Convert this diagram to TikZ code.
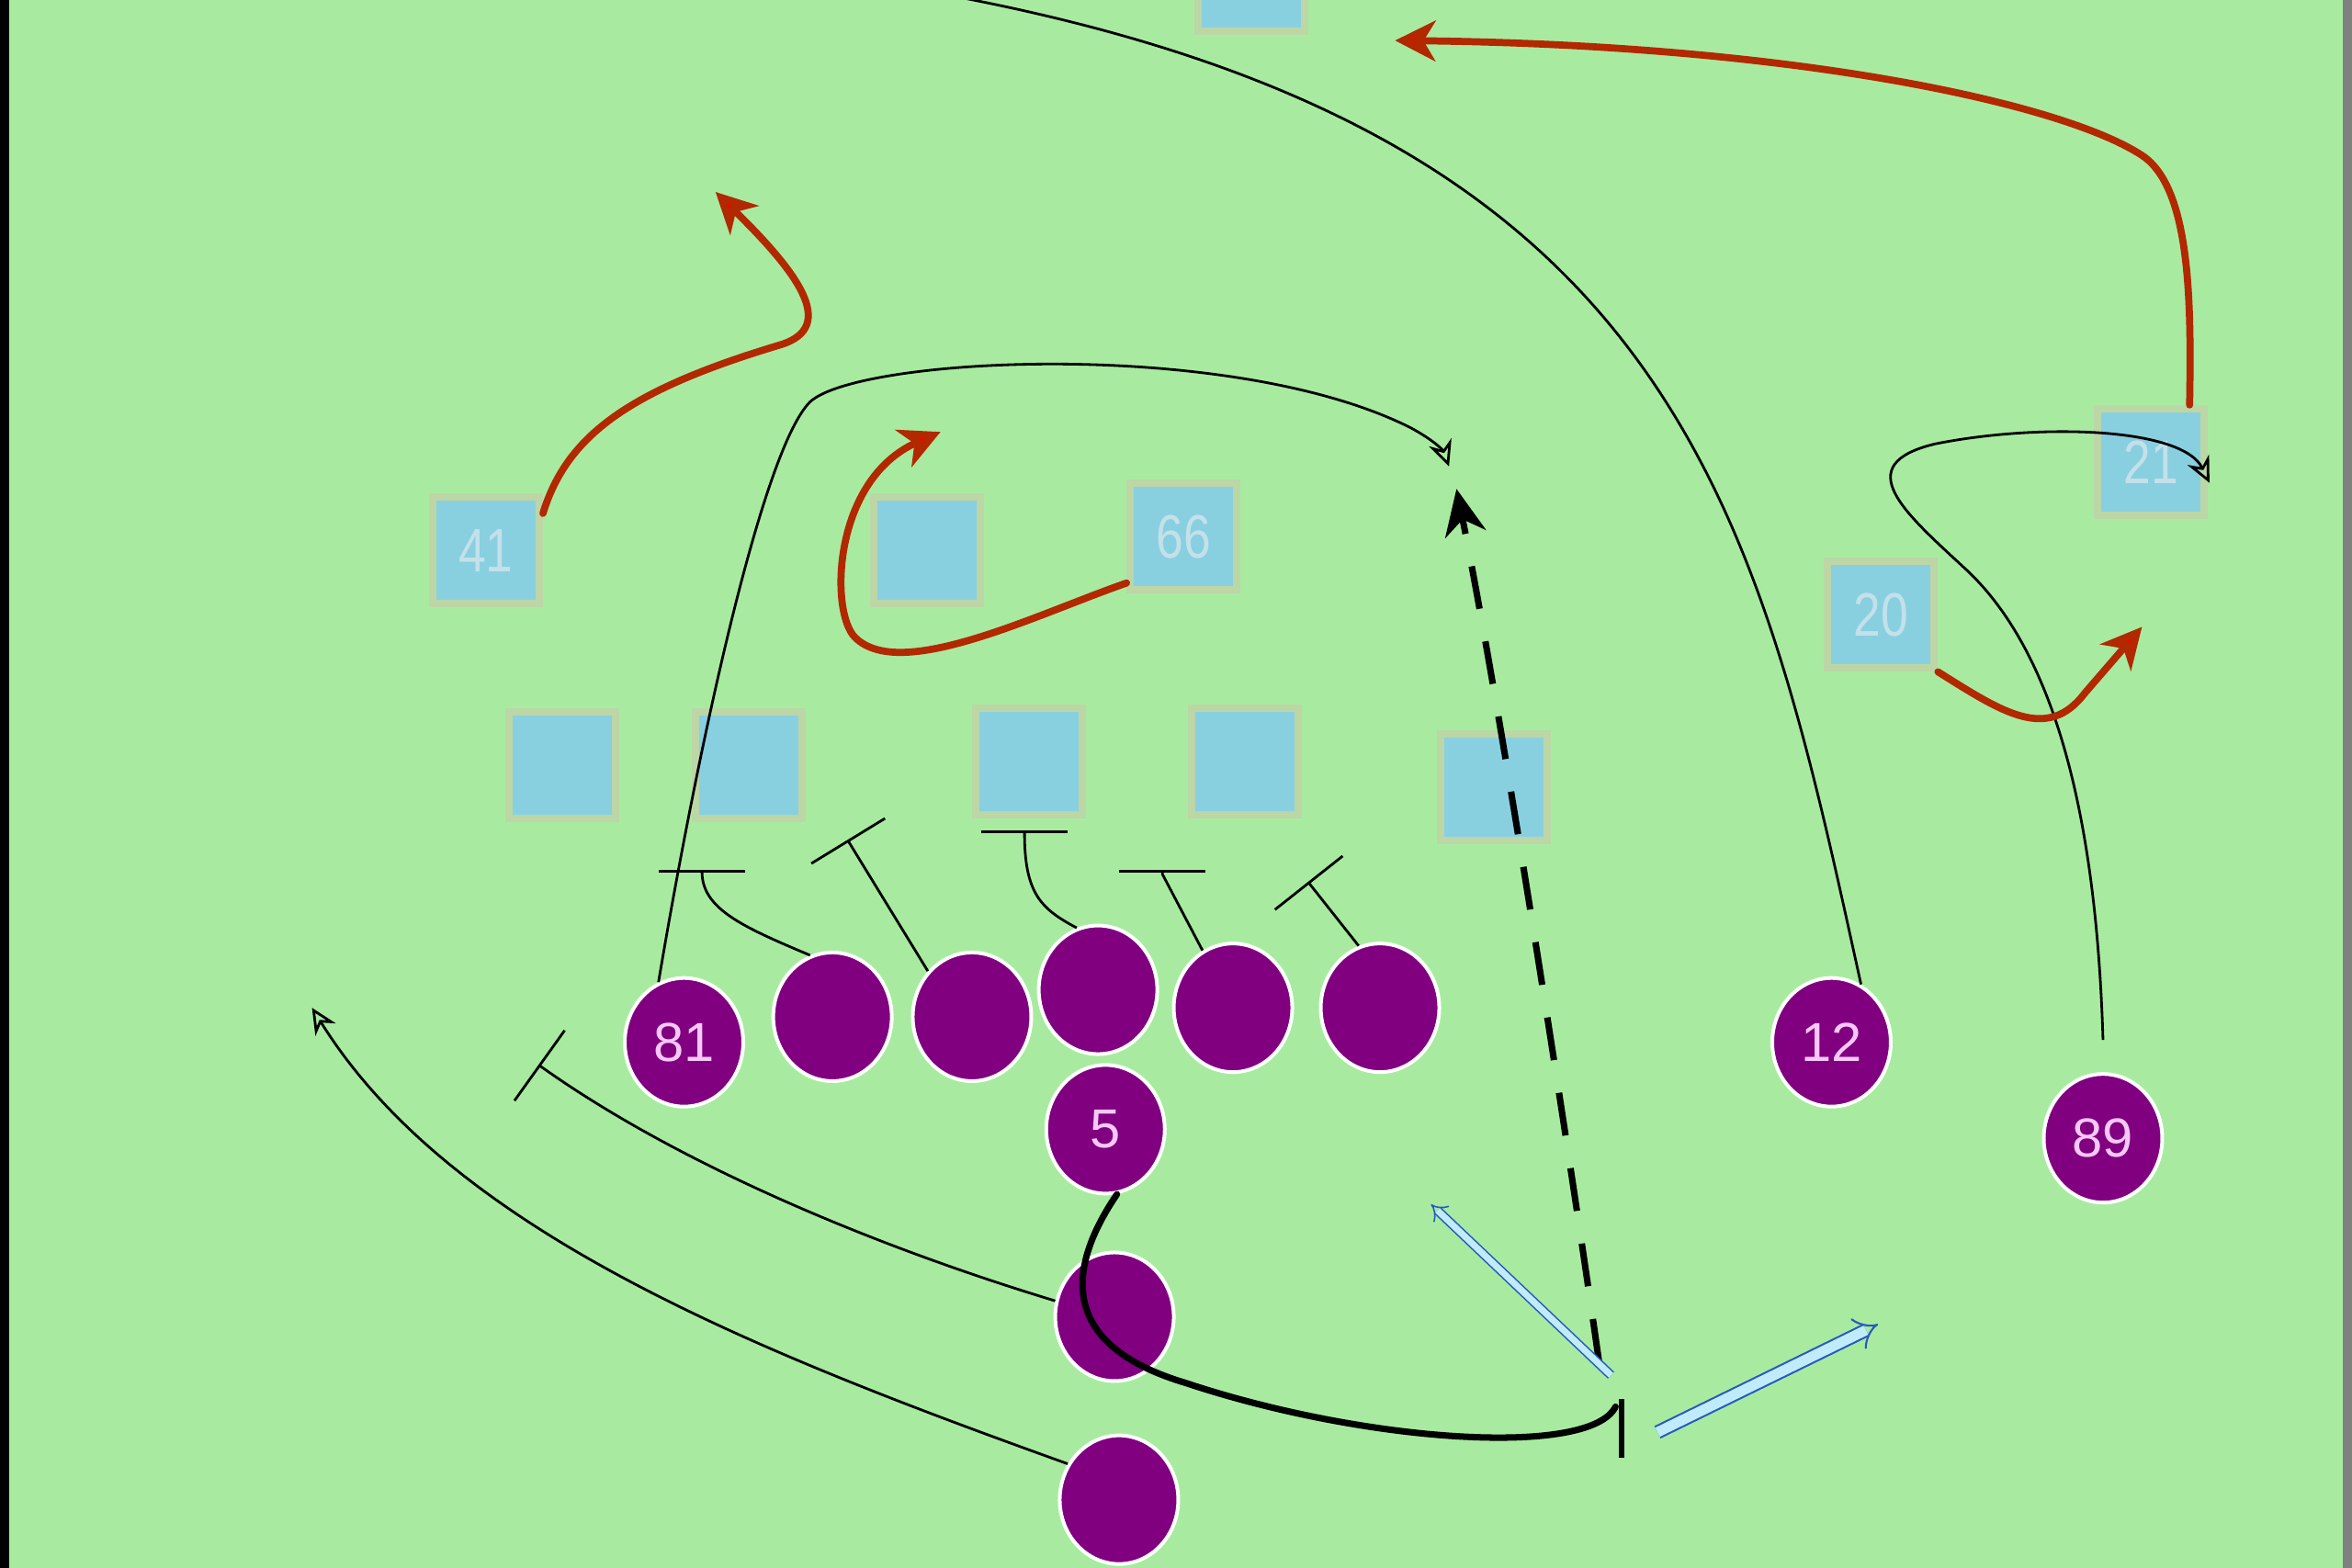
\documentclass[tikz,border=0pt]{standalone}
\usepackage{fontspec}
\usepackage{graphicx}
\newfontfamily\playfont{Liberation Sans}
\usetikzlibrary{arrows.meta, shapes.geometric}

\definecolor{field}{RGB}{168,235,160}
\definecolor{defblue}{RGB}{136,208,224}
\definecolor{defedge}{RGB}{188,214,166}
\definecolor{deftext}{RGB}{196,224,234}
\definecolor{offpurple}{RGB}{128,0,128}
\definecolor{offtext}{RGB}{246,200,246}
\definecolor{rushred}{RGB}{178,40,0}
\definecolor{tipred}{RGB}{228,12,0}
\definecolor{passblue}{RGB}{40,90,190}
\definecolor{passfill}{RGB}{192,236,250}

\tikzset{
	defender/.style = {rectangle, fill = defblue, draw = defedge, line width = 0.8mm, minimum size = 11.6mm, inner sep = 0pt, text = deftext, font = \playfont\fontsize{19}{19}\selectfont},
	player/.style = {ellipse, fill = offpurple, draw = white, line width = 0.4mm, minimum width = 12.9mm, minimum height = 14mm, inner sep = 0pt, text = offtext, font = \playfont\fontsize{17}{17}\selectfont},
	route/.style = {line width = 0.8pt, -{Stealth[open, length = 2.8mm, width = 2.6mm]}},
	block/.style = {line width = 0.8pt, -{Bar[width = 9.4mm]}},
	rush/.style = {rushred, line width = 2.2pt, line cap = round, -{Stealth[length = 4.4mm, width = 4.4mm, inset = 1.3mm, fill = tipred]}},
	handoff/.style = {line width = 2pt, line cap = round},
	throw/.style = {line width = 2pt, dash pattern = on 4.7mm off 3.6mm, -{Stealth[length = 5mm, width = 4.5mm]}},
	pass/.style = {draw = passblue, double = passfill, -{Implies}},
}
\newcommand{\nar}[1]{\scalebox{0.8}[1]{#1}}

\begin{document}
\begin{tikzpicture}[x = 0.16327mm, y = -0.16327mm]
	\useasboundingbox (0, 0) rectangle (1568, 1045.5);
	\fill[field] (0, 0) rectangle (1568, 1045.5);
	\draw[black, line width = 1mm] (3, 0) -- (3, 1045.5);
	\draw[gray, line width = 1mm] (1565, 0) -- (1565, 1045.5);
	% defense
		\node[defender] (top) at (834, -15) {};
		\node[defender] (lb41) at (324, 367) {\nar{41}};
		\node[defender] (lbm) at (618, 367) {};
		\node[defender] (lb66) at (789, 358) {\nar{66}};
		\node[defender] (cb21) at (1434, 308) {\nar{21}};
		\node[defender] (s20) at (1254, 410) {\nar{20}};
		\node[defender] (dl1) at (375, 510) {};
		\node[defender] (dl2) at (499, 510) {};
		\node[defender] (dl3) at (686, 508) {};
		\node[defender] (dl4) at (830, 508) {};
		\node[defender] (dl5) at (996, 525) {};
	% offense
		\node[player] (te81) at (456, 695) {81};
		\node[player] (lt) at (555, 678) {};
		\node[player] (lg) at (648, 678) {};
		\node[player] (c) at (732, 660) {};
		\node[player] (rg) at (822, 672) {};
		\node[player] (rt) at (920, 672) {};
		\node[player] (wr12) at (1221, 695) {12};
		\node[player] (wr89) at (1402, 759) {89};
		\node[player] (qb5) at (737, 753) {5};
		\node[player] (rb1) at (743, 878) {};
		\node[player] (rb2) at (746, 1000) {};
	% route ends
		\coordinate (e12) at (628, -4);
		\coordinate (e81) at (966, 311);
		\coordinate (e89) at (1473, 322);
		\coordinate (erb2) at (208, 672);
		\coordinate (e41) at (477, 128);
		\coordinate (e66) at (627, 288);
		\coordinate (e21) at (930, 27);
		\coordinate (e20) at (1428, 418);
		\coordinate (set) at (1077, 938);
		\coordinate (bartop) at (1081, 933);
		\coordinate (barbot) at (1081, 972);
		\coordinate (release) at (1066, 908);
		\coordinate (e5) at (971, 326);
		\coordinate (look1) at (1074, 917);
		\coordinate (look1e) at (954, 803);
		\coordinate (look2) at (1105, 955);
		\coordinate (look2e) at (1252, 883);
	% receivers
		\draw[line width = 0.8pt] (wr12.63) .. controls (1215, 540) and (1190, 420) .. (1140, 320) .. controls (1060, 160) and (920, 50) .. (e12);
		\draw[route] (te81.113) .. controls (465, 500) and (508, 300) .. (540, 268) .. controls (572, 238) and (820, 225) .. (940, 285) .. controls (955, 293) and (962, 300) .. (e81);
		\draw[route] ([yshift = 3.5mm]wr89.north) .. controls (1398, 560) and (1375, 440) .. (1311, 380) .. controls (1270, 342) and (1232, 310) .. (1290, 296) .. controls (1360, 282) and (1455, 285) .. (e89);
		\draw[route] (rb2.145) .. controls (500, 900) and (300, 820) .. (erb2);
	% blocks
		\draw[block] (lt.110) .. controls (495, 618) and (468, 606) .. (468, 580);
		\draw[block] (lg.134) -- (565, 560);
		\draw[block] (c.109) .. controls (694, 606) and (683, 596) .. (683, 554);
		\draw[block] (rg.118) -- (775, 583) -- (775, 580);
		\draw[block] (rt.109) -- (872, 588);
		\draw[block] (rb1.165) .. controls (580, 830) and (450, 775) .. (359, 710);
	% rush
		\draw[rush] (lb41.33) .. controls (378, 290) and (420, 260) .. (520, 230) .. controls (560, 218) and (530, 180) .. (e41);
		\draw[rush] (lb66.219) .. controls (690, 410) and (600, 455) .. (570, 425) .. controls (553, 408) and (555, 320) .. (e66);
		\draw[rush] ([xshift = -2mm]cb21.north east) .. controls (1461, 200) and (1460, 128) .. (1430, 105) .. controls (1380, 70) and (1200, 30) .. (e21);
		\draw[rush] (s20.south east) .. controls (1335, 475) and (1365, 495) .. (1390, 462) -- (e20);
	% quarterback
		\draw[handoff] (qb5.-80) .. controls (715, 840) and (700, 895) .. (790, 922) .. controls (910, 962) and (1060, 972) .. (set);
		\draw[line width = 1.8pt] (bartop) -- (barbot);
		\draw[throw] (release) .. controls (1045, 760) and (1000, 470) .. (e5);
		\draw[pass, line width = 0.45pt, double distance = 0.7mm] (look1) -- (look1e);
		\draw[pass, line width = 0.6pt, double distance = 1.1mm] (look2) -- (look2e);
\end{tikzpicture}
\end{document}
